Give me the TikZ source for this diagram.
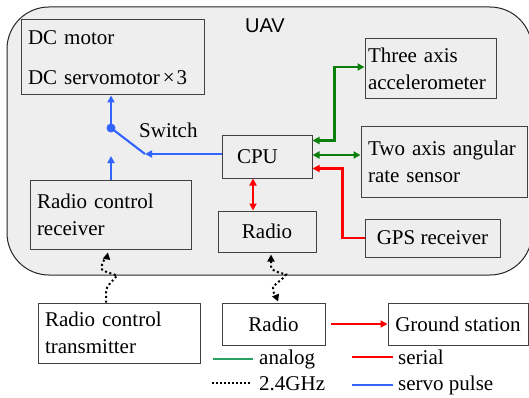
\documentclass[tikz,border=0pt]{standalone}
\usepackage{fontspec}
\setmainfont{Liberation Serif}
\newfontfamily\uavfont{Liberation Sans}
\usepackage{tikz}
\usetikzlibrary{positioning,arrows.meta}

\definecolor{sigreen}{RGB}{10,128,10}
\definecolor{legreen}{RGB}{40,160,100}
\definecolor{sired}{RGB}{255,0,0}
\definecolor{siblue}{RGB}{50,100,255}

\tikzset{
  blk/.style={draw=black!75, line width=1pt, inner ysep=0pt},
  analogline/.style={draw=sigreen, line width=2.1pt},
  serialline/.style={draw=sired, line width=2.1pt},
  servoline/.style={draw=siblue, line width=2.1pt},
  rfline/.style={draw=black, line width=2pt, dash pattern=on 2pt off 2.6pt},
  legtext/.style={anchor=base west, inner sep=0pt}
}

\begin{document}
\begin{tikzpicture}[x=1pt, y=-1pt, >={Triangle[length=7pt,width=7pt]},
    every node/.style={font=\fontsize{21}{27}\selectfont}]
    \useasboundingbox (0,0) rectangle (529,398);

    % UAV body
    \draw[fill=gray!13, draw=black!85, line width=1pt, rounded corners=42pt] (7,7) rectangle (532,275);
    \node[font=\uavfont\fontsize{20}{24}\selectfont] (uav) at (265,26) {UAV};

    % On-board units
    \node[blk, text width=169pt, inner xsep=7pt, minimum height=75pt, align=left] (motor) at (112.5,57.5)
      {DC motor\\[13pt]DC servomotor\kern3pt×\kern2pt3};
    \node[blk, text width=60pt, inner xsep=15pt, minimum height=42pt, align=left] (cpu) at (267,157) {CPU};
    \node[blk, text width=147pt, inner xsep=7pt, minimum height=69pt, align=left] (rcr) at (110.5,214.5)
      {Radio control\\receiver};
    \node[blk, minimum width=98pt, minimum height=41pt] (uavradio) at (267,231.5) {Radio};
    \node[blk, text width=125pt, inner xsep=3pt, minimum height=60pt, align=left] (acc) at (430.5,69)
      {Three axis\\accelerometer};
    \node[blk, text width=152pt, inner xsep=7pt, minimum height=70pt, align=left] (rate) at (444,162)
      {Two axis angular\\rate sensor};
    \node[blk, minimum width=135pt, minimum height=38pt] (gps) at (432.5,238) {GPS receiver};

    % Ground units
    \node[blk, text width=148pt, inner xsep=7pt, minimum height=60pt, align=left] (rct) at (119,333)
      {Radio control\\transmitter};
    \node[blk, minimum width=103pt, minimum height=42pt] (gndradio) at (273.5,324) {Radio};
    \node[blk, minimum width=140pt, minimum height=42pt] (gs) at (458,324) {Ground station};

    % Servo pulse path and switch
    \coordinate (pivot) at (111,128);
    \coordinate (contact) at (145,154);
    \coordinate (swin) at (111,156);
    \draw[servoline,->] (cpu.west |- contact) -- (contact);
    \draw[servoline] (pivot) -- (contact);
    \fill[siblue] (pivot) circle (4.5pt);
    \draw[servoline,->] (pivot) -- (pivot |- motor.south);
    \draw[servoline,->] (pivot |- rcr.north) -- (swin);
    \node[legtext] (swlabel) at (139,138) {Switch};

    % Analog links
    \draw[analogline,<->] ([yshift=-5pt]cpu.north east) -- ++(22,0) |- ([yshift=2pt]acc.west);
    \draw[analogline,<->] ([yshift=2pt]cpu.east) coordinate (ratein) -- (ratein -| rate.west);

    % Serial links
    \draw[serialline,->] (gps.west) -- ++(-22,0) |- ([yshift=10pt]cpu.south east);
    \draw[serialline,<->] ([xshift=-14pt]cpu.south) -- ([xshift=-14pt]uavradio.north);
    \draw[serialline,->, shorten <=5pt] (gndradio.east) -- (gs.west);

    % 2.4GHz links
    \draw[rfline,->, shorten >=3pt] ([xshift=-13pt]rct.north) -- ++(0,-10)
      .. controls +(0,-8) and +(-3,5) .. ++(11,-17)
      .. controls +(-5,-2) and +(4,3) .. ++(-15,-6)
      .. controls +(-2,-6) and +(-1,5) .. ([xshift=-2pt]rcr.south);
    \draw[rfline,<->, shorten <=2pt, shorten >=1pt] ([xshift=4pt]uavradio.south) -- ++(0,14)
      .. controls +(0,5) and +(-6,-2) .. ++(15,8)
      .. controls +(-3,5) and +(3,-5) .. ++(-13,13)
      .. controls +(0,7) and +(-2,-5) .. ([xshift=5pt]gndradio.north);

    % Legend
    \node[legtext] (lganalog) at (259,364) {analog};
    \node[legtext] (lgrf) at (259,390) {2.4GHz};
    \node[legtext] (lgserial) at (398,364) {serial};
    \node[legtext] (lgservo) at (398,390) {servo pulse};
    \draw[draw=legreen, line width=2.1pt] ([xshift=-46pt]lganalog.west) -- ([xshift=-6pt]lganalog.west);
    \draw[line width=1.7pt, dash pattern=on 1.7pt off 2.3pt] ([xshift=-47pt]lgrf.west) -- ([xshift=-9pt]lgrf.west);
    \draw[serialline] ([xshift=-46pt]lgserial.west) -- ([xshift=-5pt]lgserial.west);
    \draw[servoline] ([xshift=-46pt]lgservo.west) -- ([xshift=-5pt]lgservo.west);
\end{tikzpicture}
\end{document}
